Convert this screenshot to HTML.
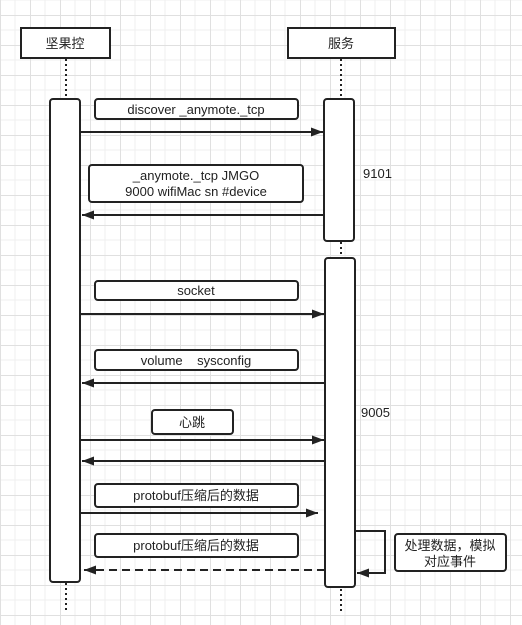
<!DOCTYPE html>
<html><head><meta charset="utf-8"><style>
html,body{margin:0;padding:0;background:#fff}
svg{display:block}
text{font-family:"Liberation Sans","Noto Sans CJK SC",sans-serif;font-size:13px;fill:#222}
</style></head><body>
<svg width="522" height="625" viewBox="0 0 522 625" xmlns="http://www.w3.org/2000/svg">
<defs>
<pattern id="g" width="30" height="30" patternUnits="userSpaceOnUse" x="0" y="15">
<path d="M15 0V30M0 15H30" stroke="#efefef" stroke-width="1"/>
<path d="M0.5 0V30M0 0.5H30" stroke="#e0e0e0" stroke-width="1"/>
</pattern>
<marker id="a" markerWidth="12" markerHeight="9" refX="12" refY="4.5" orient="auto" markerUnits="userSpaceOnUse"><path d="M0 0L12 4.5L0 9z" fill="#222"/></marker>
</defs>
<rect width="522" height="625" fill="url(#g)"/>
<g stroke="#222" fill="none" stroke-width="2">
<line x1="66" y1="59" x2="66" y2="99" stroke-dasharray="2,3"/>
<line x1="341" y1="59" x2="341" y2="99" stroke-dasharray="2,3"/>
<line x1="341" y1="242" x2="341" y2="258" stroke-dasharray="2,3"/>
<line x1="66" y1="583" x2="66" y2="612" stroke-dasharray="2,3"/>
<line x1="341" y1="589" x2="341" y2="612" stroke-dasharray="2,3"/>
<rect x="21" y="28" width="89" height="30" fill="#fff"/>
<rect x="288" y="28" width="107" height="30" fill="#fff"/>
<rect x="50" y="99" width="30" height="483" rx="3" fill="#fff"/>
<rect x="324" y="99" width="30" height="142" rx="3" fill="#fff"/>
<rect x="325" y="258" width="30" height="329" rx="3" fill="#fff"/>
<rect x="95" y="99" width="203" height="20" rx="3" fill="#fff"/>
<rect x="89" y="165" width="214" height="37" rx="3" fill="#fff"/>
<rect x="95" y="281" width="203" height="19" rx="3" fill="#fff"/>
<rect x="95" y="350" width="203" height="20" rx="3" fill="#fff"/>
<rect x="152" y="410" width="81" height="24" rx="3" fill="#fff"/>
<rect x="95" y="484" width="203" height="23" rx="3" fill="#fff"/>
<rect x="95" y="534" width="203" height="23" rx="3" fill="#fff"/>
<rect x="395" y="534" width="111" height="37" rx="3" fill="#fff"/>
<line x1="80" y1="132" x2="323" y2="132" marker-end="url(#a)"/>
<line x1="324" y1="215" x2="82" y2="215" marker-end="url(#a)"/>
<line x1="80" y1="314" x2="324" y2="314" marker-end="url(#a)"/>
<line x1="325" y1="383" x2="82" y2="383" marker-end="url(#a)"/>
<line x1="80" y1="440" x2="324" y2="440" marker-end="url(#a)"/>
<line x1="325" y1="461" x2="82" y2="461" marker-end="url(#a)"/>
<line x1="80" y1="513" x2="318" y2="513" marker-end="url(#a)"/>
<line x1="325" y1="570" x2="84" y2="570" stroke-dasharray="8,5" marker-end="url(#a)"/>
<polyline points="355,531 385,531 385,573 357,573" marker-end="url(#a)"/>
</g>
<g text-anchor="middle">
<text x="65" y="48" font-size="14">坚果控</text>
<text x="341" y="48" font-size="14">服务</text>
<text x="196" y="114">discover _anymote._tcp</text>
<text x="196" y="180">_anymote._tcp JMGO</text>
<text x="196" y="196">9000 wifiMac sn #device</text>
<text x="196" y="295">socket</text>
<text x="196" y="365">volume &#160;&#160;&#160;sysconfig</text>
<text x="192" y="427">心跳</text>
<text x="196" y="500">protobuf压缩后的数据</text>
<text x="196" y="550">protobuf压缩后的数据</text>
<text x="450" y="550">处理数据，模拟</text>
<text x="450" y="566">对应事件</text>
</g>
<text x="363" y="178">9101</text>
<text x="361" y="417">9005</text>
</svg>
</body></html>
